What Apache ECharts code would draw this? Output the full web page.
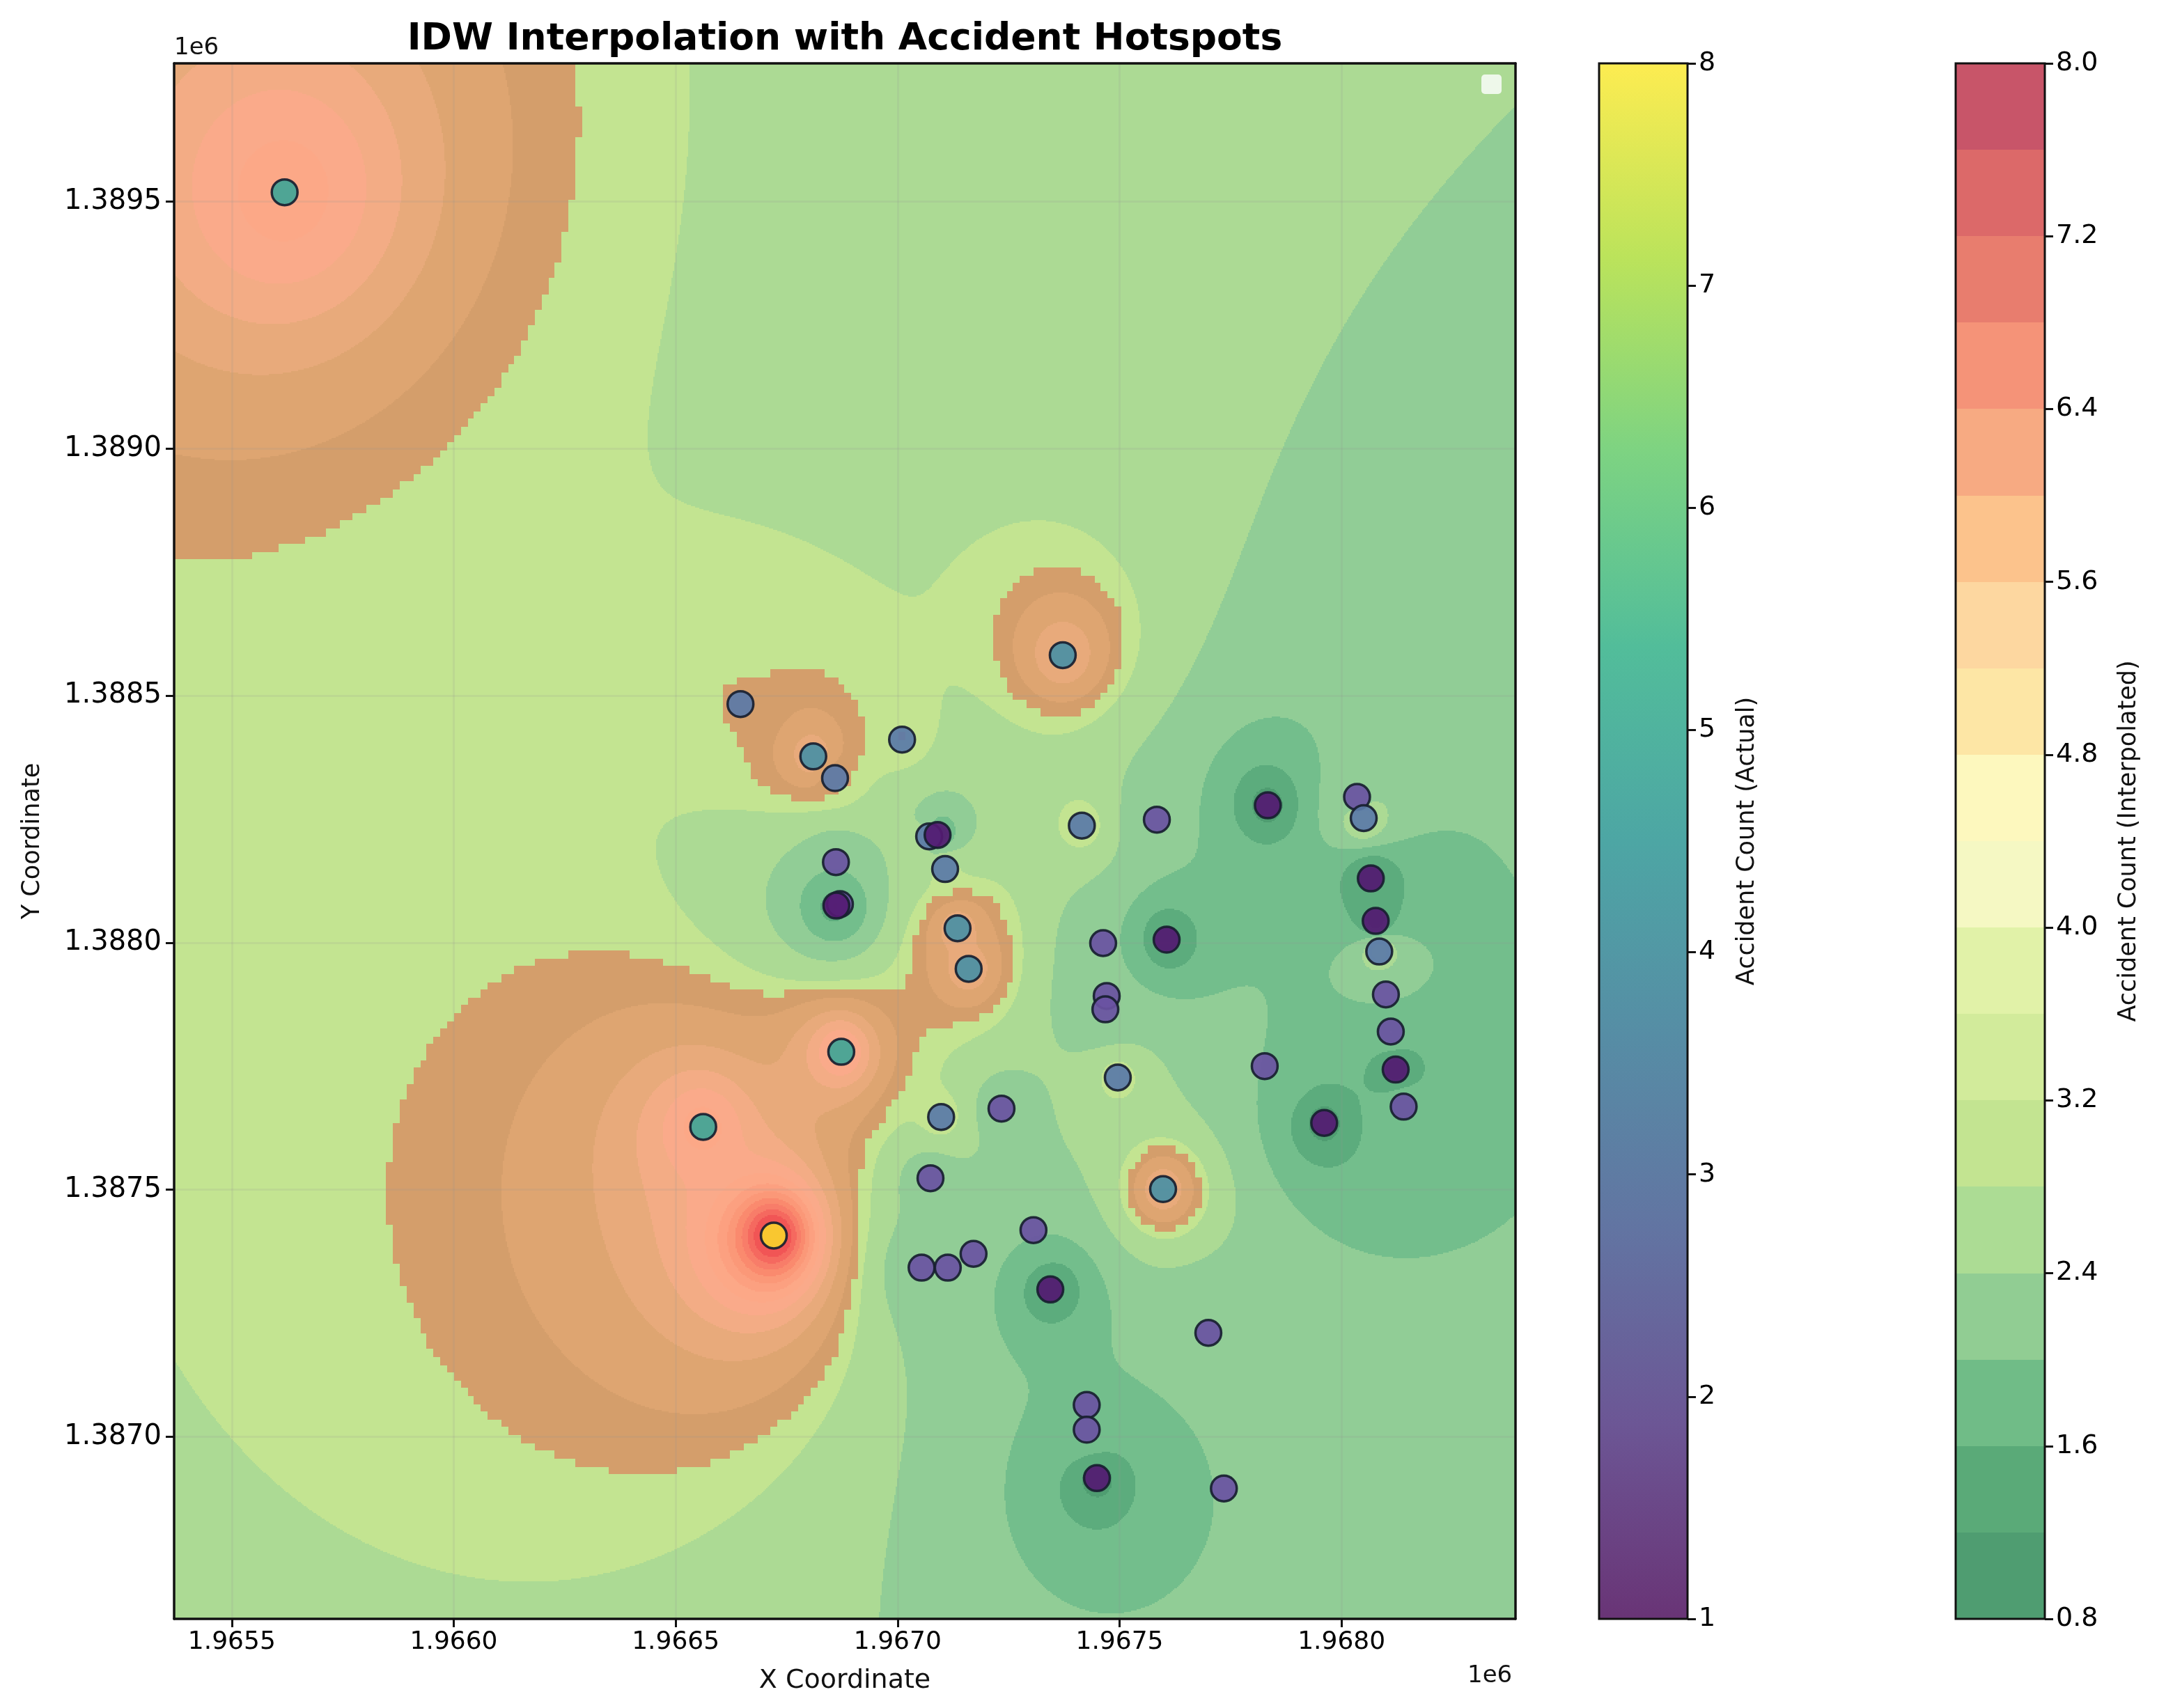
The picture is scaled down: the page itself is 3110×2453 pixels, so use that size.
<!DOCTYPE html>
<html>
<head>
<meta charset="utf-8">
<title>IDW Interpolation with Accident Hotspots</title>
<script src="https://cdn.jsdelivr.net/npm/echarts@6/dist/echarts.min.js"></script>
<style>html,body{margin:0;padding:0;background:#fff}#chart{width:3110px;height:2453px}</style>
</head>
<body>
<div id="chart"></div>
<script>
// Accident sites: projected X, projected Y and accident count
const siteX = [1965619,1966646,1966810,1966859,1967010,1967372,1967071,1967090,1967107,1966861,
  1966870,1966862,1967135,1967160,1966873,1966562,1967098,1967234,1967496,1967827,
  1967074,1967598,1966721,1967306,1967171,1967054,1967113,1967344,1967700,1967426,
  1967426,1967449,1967735,1967415,1967584,1967834,1968035,1968050,1968066,1968077,
  1968085,1968100,1968111,1968122,1968140,1967961,1967463,1967471,1967468,1967606];
const siteY = [1389519,1388483,1388377,1388333,1388411,1388582,1388215,1388218,1388149,1388163,
  1388078,1388075,1388029,1387947,1387779,1387627,1387647,1387664,1387727,1387750,
  1387523,1387501,1387407,1387418,1387370,1387342,1387342,1387298,1387210,1387064,
  1387014,1386916,1386895,1388237,1388249,1388278,1388295,1388252,1388130,1388044,
  1387982,1387895,1387820,1387743,1387668,1387635,1387999,1387892,1387865,1388006];
const siteCount = [5,3,4,3,3,4,3,1,3,2,
  2,1,4,4,5,5,3,2,3,2,
  2,4,8,2,2,2,2,1,2,2,
  2,1,2,3,2,1,2,3,1,1,
  3,2,2,1,2,1,2,2,2,1];

// Axis extents and tick positions
const xRange = [1965370, 1968392];
const yRange = [1386631, 1389780];
const xTicks = [1965500,1966000,1966500,1967000,1967500,1968000];
const yTicks = [1387000,1387500,1388000,1388500,1389000,1389500];

// Contour levels: 0.8 to 8.0 in steps of 0.4
const levelBase = 0.8, levelStep = 0.4;
const levelStarts = [0.8,1.2,1.6,2.0,2.4,2.8,3.2,3.6,4.0,4.4,4.8,5.2,5.6,6.0,6.4,6.8,7.2,7.6];
const coolColors = ['#4f9d71','#5cac7d','#73be8c','#91cd96','#acda94','#c3e491'];
const warmColors = ['#d49e6b','#dea571','#e8aa7b','#f3ac85','#faaa8a','#fca887',
  '#fca080','#fb9878','#fa8a6e','#f87d69','#f5695f','#f15555','#eb464e'];
const scaleColors = ['#4f9d71','#5aaa78','#70bc87','#91cd93','#acdc94','#c3e491',
  '#d2eb9b','#e1f2a8','#f5f8c3','#fdf8be','#fde6a5','#fdd7a0','#fcc38c','#f7aa82','#f59378','#e87d6e','#dc6969','#c85569'];

// Viridis stops for the actual-count scale, and the tones the sites take over the surface
const viridis = ['#440154','#472c7a','#3b518b','#2c718e','#21908d','#27ad81','#5cc863','#aadc32','#fde725'];
const viridisSoft = viridis.map(c => {
  const n = parseInt(c.slice(1), 16);
  const mix = v => Math.round(v * 0.8 + 255 * 0.2);
  return `rgb(${mix(n >> 16)},${mix((n >> 8) & 255)},${mix(n & 255)})`;
});
const siteTones = ['#541a72','#6a52a2','#5a7aa8','#4a90a4','#40a596','#5cc878','#b0dc5a','#fad22e'];

const axisFont = 'DejaVu Sans';
const plot = { left: 250, top: 91, width: 1926, height: 2234 };

// Inverse distance weighting (power 2) over all sites
function idw(x, y) {
  let sw = 0, sv = 0;
  for (let i = 0; i < siteX.length; i++) {
    const dx = x - siteX[i], dy = y - siteY[i];
    const d2 = dx * dx + dy * dy;
    if (d2 < 1) return siteCount[i];
    const w = 1 / d2;
    sw += w; sv += w * siteCount[i];
  }
  return sv / sw;
}

// The warm part of the surface follows a coarser 200 x 200 lattice; the rest is fine-grained
const warmFrom = 5;
const warmLimit = 2.985;
const coarseN = 200;
const dxCoarse = (xRange[1] - xRange[0]) / (coarseN - 1);
const dyCoarse = (yRange[1] - yRange[0]) / (coarseN - 1);
const coarse = [];
for (let j = 0; j < coarseN; j++) {
  const row = new Float64Array(coarseN);
  for (let i = 0; i < coarseN; i++) row[i] = idw(xRange[0] + i * dxCoarse, yRange[0] + j * dyCoarse);
  coarse.push(row);
}
// A lattice node counts as warm only when it is not an isolated speck
function isWarmNode(j, i) {
  if (coarse[j][i] < warmLimit) return false;
  let near = 0;
  for (const [dj, di] of [[1, 0], [-1, 0], [0, 1], [0, -1]]) {
    const row = coarse[j + dj];
    if (!row || row[i + di] === undefined || row[i + di] >= warmLimit) near++;
  }
  return near >= 2;
}
const warmNodes = coarse.map((row, j) => Array.from(row, (v, i) => isWarmNode(j, i)));
const bandOf = v => Math.max(0, Math.min(levelStarts.length - 1, Math.floor((v - levelBase) / levelStep + 1e-9)));
const bandColors = coolColors.slice(0, warmFrom + 1).concat(warmColors);

// Run-length encode each raster row into spans of one contour band.
// Cool spans use indices up to warmFrom, warm spans sit above them.
const rows = 1117, cols = 963;
const dxFine = (xRange[1] - xRange[0]) / cols;
const dyFine = (yRange[1] - yRange[0]) / rows;
const fieldSpans = [];
for (let r = 0; r < rows; r++) {
  const y = yRange[0] + (r + 0.5) * dyFine;
  const cj = Math.min(coarseN - 1, Math.round((y - yRange[0]) / dyCoarse));
  let start = 0, cur = -1;
  for (let c = 0; c <= cols; c++) {
    let b = -2;
    if (c < cols) {
      const x = xRange[0] + (c + 0.5) * dxFine;
      const ci = Math.min(coarseN - 1, Math.round((x - xRange[0]) / dxCoarse));
      const fine = bandOf(idw(x, y));
      b = warmNodes[cj][ci] ? Math.max(fine, warmFrom) + 1 : Math.min(fine, warmFrom);
    }
    if (b !== cur) {
      if (cur >= 0) fieldSpans.push([xRange[0] + start * dxFine, xRange[0] + c * dxFine, y - dyFine / 2, y + dyFine / 2, cur]);
      start = c; cur = b;
    }
  }
}

function renderSpan(params, api) {
  const a = api.coord([api.value(0), api.value(3)]);
  const b = api.coord([api.value(1), api.value(2)]);
  const x = Math.round(a[0]), y = Math.round(a[1]);
  return {
    type: 'rect',
    shape: { x, y, width: Math.round(b[0]) - x, height: Math.round(b[1]) - y },
    style: { fill: bandColors[api.value(4)] }
  };
}

function renderLevelBand(params, api) {
  const a = api.coord([0, api.value(1)]);
  const b = api.coord([1, api.value(0)]);
  const x = Math.round(a[0]), y = Math.round(a[1]);
  return {
    type: 'rect',
    shape: { x, y, width: Math.round(b[0]) - x, height: Math.round(b[1]) - y },
    style: { fill: scaleColors[params.dataIndex] }
  };
}

function renderGradientBar(params, api) {
  const a = api.coord([0, api.value(1)]);
  const b = api.coord([1, api.value(0)]);
  const stops = viridisSoft.map((color, i) => ({ offset: 1 - i / (viridisSoft.length - 1), color }));
  return {
    type: 'rect',
    shape: { x: a[0], y: a[1], width: b[0] - a[0], height: b[1] - a[1] },
    style: { fill: new echarts.graphic.LinearGradient(0, 0, 0, 1, stops.reverse()) }
  };
}

function renderBarFrame(params, api) {
  const a = api.coord([0, api.value(1)]);
  const b = api.coord([1, api.value(0)]);
  return {
    type: 'rect',
    shape: { x: a[0], y: a[1], width: b[0] - a[0], height: b[1] - a[1] },
    style: { fill: 'none', stroke: '#111', lineWidth: 3 }
  };
}

const tickLabel = { color: '#000', fontFamily: axisFont, fontSize: 38 };
const blackLine = { show: true, lineStyle: { color: '#111', width: 3.5 } };
const barLine = { show: false, onZero: false };
const blackTick = { show: true, length: 12, lineStyle: { color: '#111', width: 3 } };
const nameText = { color: '#111', fontFamily: axisFont, fontSize: 35 };

const chart = echarts.init(document.getElementById('chart'), null, { renderer: 'canvas' });
chart.setOption({
  animation: false,
  backgroundColor: '#fff',
  title: {
    text: 'IDW Interpolation with Accident Hotspots',
    left: 1208, top: 25, textAlign: 'center',
    textStyle: { fontFamily: axisFont, fontWeight: 'bold', fontSize: 53.5, color: '#000' }
  },
  grid: [
    plot,
    { left: 2296, top: 91, width: 127, height: 2234 },
    { left: 2808, top: 91, width: 128, height: 2234 }
  ],
  xAxis: [
    {
      type: 'value', gridIndex: 0, min: xRange[0], max: xRange[1], z: 2,
      name: 'X Coordinate', nameLocation: 'middle', nameGap: 70, nameTextStyle: Object.assign({}, nameText, { fontSize: 38 }),
      axisLine: blackLine,
      axisTick: Object.assign({}, blackTick, { customValues: xTicks }),
      axisLabel: Object.assign({}, tickLabel, { margin: 16, customValues: xTicks, fontSize: 36, formatter: v => (v / 1e6).toFixed(4) }),
      splitLine: { show: true, lineStyle: { color: 'rgba(150,150,150,0.15)', width: 3 } }
    },
    {
      type: 'value', gridIndex: 0, position: 'top', min: xRange[0], max: xRange[1], z: 2,
      axisLine: blackLine, axisTick: { show: false }, axisLabel: { show: false }, splitLine: { show: false }
    },
    { type: 'value', gridIndex: 1, min: 0, max: 1, show: false },
    { type: 'value', gridIndex: 2, min: 0, max: 1, show: false }
  ],
  yAxis: [
    {
      type: 'value', gridIndex: 0, min: yRange[0], max: yRange[1], z: 2,
      name: 'Y Coordinate', nameLocation: 'middle', nameGap: 186, nameRotate: 90, nameTextStyle: nameText,
      axisLine: blackLine,
      axisTick: Object.assign({}, blackTick, { customValues: yTicks }),
      axisLabel: Object.assign({}, tickLabel, { margin: 18, customValues: yTicks, fontSize: 40, formatter: v => (v / 1e6).toFixed(4) }),
      splitLine: { show: true, lineStyle: { color: 'rgba(150,150,150,0.15)', width: 3 } }
    },
    {
      type: 'value', gridIndex: 0, position: 'right', min: yRange[0], max: yRange[1], z: 2,
      axisLine: blackLine, axisTick: { show: false }, axisLabel: { show: false }, splitLine: { show: false }
    },
    {
      type: 'value', gridIndex: 1, position: 'right', min: 1, max: 8, interval: 1, z: 2,
      name: 'Accident Count (Actual)', nameLocation: 'middle', nameGap: 68, nameRotate: 90, nameTextStyle: nameText,
      axisLine: barLine, axisTick: blackTick, splitLine: { show: false },
      axisLabel: Object.assign({}, tickLabel, { margin: 16 })
    },
    {
      type: 'value', gridIndex: 2, position: 'right', min: 0.8, max: 8, interval: 0.8, z: 2,
      name: 'Accident Count (Interpolated)', nameLocation: 'middle', nameGap: 103, nameRotate: 90, nameTextStyle: nameText,
      axisLine: barLine, axisTick: blackTick, splitLine: { show: false },
      axisLabel: Object.assign({}, tickLabel, { margin: 16, formatter: v => v.toFixed(1) })
    }
  ],
  visualMap: {
    show: false, type: 'continuous', seriesIndex: 1, dimension: 2, min: 1, max: 8,
    inRange: { color: siteTones }
  },
  series: [
    {
      type: 'custom', name: 'Interpolated', xAxisIndex: 0, yAxisIndex: 0, z: 1,
      renderItem: renderSpan, data: fieldSpans, progressive: 0, silent: true,
      encode: { x: [0, 1], y: [2, 3] }
    },
    {
      type: 'scatter', name: 'Actual', xAxisIndex: 0, yAxisIndex: 0, z: 3,
      symbolSize: 37,
      itemStyle: { opacity: 0.92, borderColor: '#182030', borderWidth: 3.5 },
      data: siteX.map((x, i) => [x, siteY[i], siteCount[i]])
    },
    {
      type: 'custom', name: 'Actual scale', xAxisIndex: 2, yAxisIndex: 2, z: 1,
      renderItem: renderGradientBar, data: [[1, 8]], encode: { y: [0, 1] }
    },
    {
      type: 'custom', name: 'Interpolated scale', xAxisIndex: 3, yAxisIndex: 3, z: 1,
      renderItem: renderLevelBand,
      data: levelStarts.map(v => [v, v + levelStep]), encode: { y: [0, 1] }
    },
    {
      type: 'custom', name: 'Actual frame', xAxisIndex: 2, yAxisIndex: 2, z: 4,
      renderItem: renderBarFrame, data: [[1, 8]], encode: { y: [0, 1] }, silent: true
    },
    {
      type: 'custom', name: 'Interpolated frame', xAxisIndex: 3, yAxisIndex: 3, z: 4,
      renderItem: renderBarFrame, data: [[0.8, 8]], encode: { y: [0, 1] }, silent: true
    }
  ],
  graphic: [
    { type: 'text', left: 250, top: 52, style: { text: '1e6', fontFamily: axisFont, fontSize: 34, fill: '#111' } },
    { type: 'text', left: 2107, top: 2390, style: { text: '1e6', fontFamily: axisFont, fontSize: 34, fill: '#111' } },
    { type: 'rect', left: 2127, top: 107, z: 10, shape: { width: 29, height: 28, r: 5 }, style: { fill: 'rgba(255,255,255,0.8)' } }
  ]
});
</script>
</body>
</html>
